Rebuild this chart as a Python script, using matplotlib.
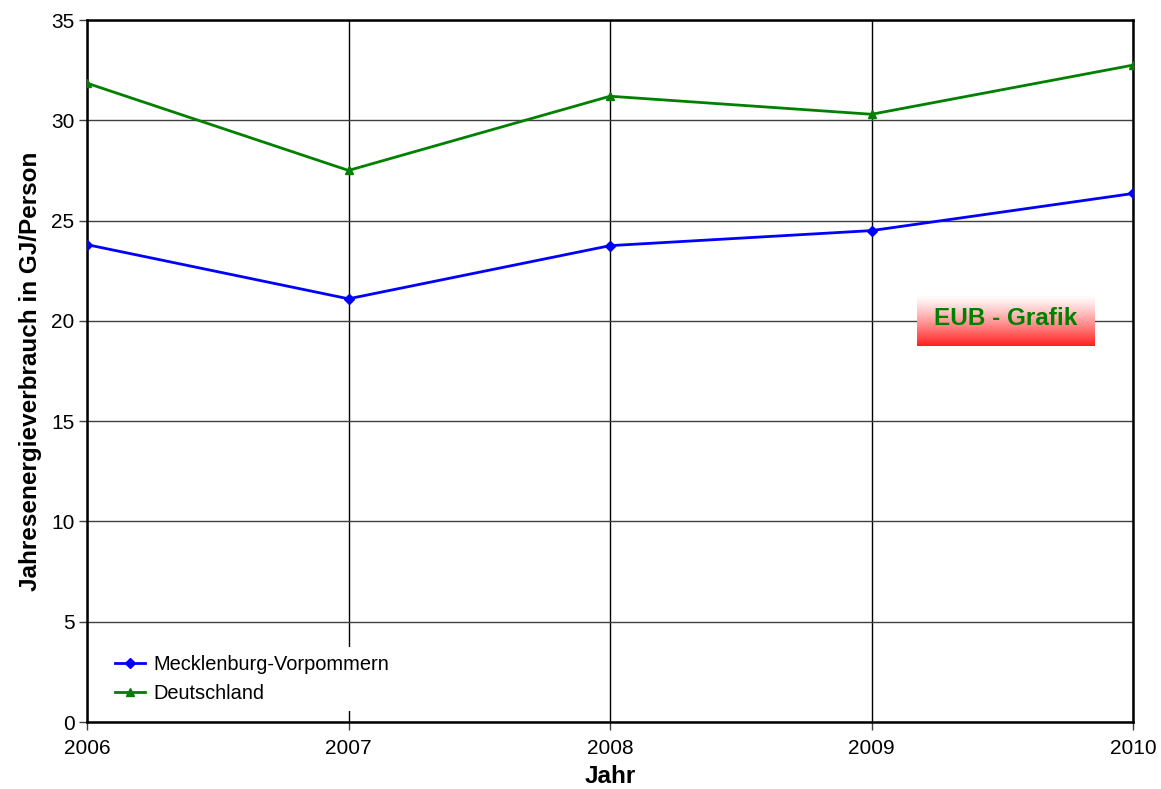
import numpy as np
import matplotlib
matplotlib.use("Agg")
import matplotlib.pyplot as plt

plt.rcParams['font.family'] = ['Liberation Sans', 'DejaVu Sans']

years = [2006, 2007, 2008, 2009, 2010]
mv_values = [23.8, 21.1, 23.75, 24.5, 26.35]
de_values = [31.85, 27.5, 31.2, 30.3, 32.75]
series_names = ["Mecklenburg-Vorpommern", "Deutschland"]
y_ticks = [0, 5, 10, 15, 20, 25, 30, 35]

fig = plt.figure(figsize=(11.61, 7.89), dpi=100)
ax = fig.add_axes([87 / 1161, 1 - 722 / 789, 1046 / 1161, 702 / 789])

ax.plot(years, mv_values, color="#0000ff", lw=2, marker="D", ms=5,
        label=series_names[0], zorder=3)
ax.plot(years, de_values, color="#008000", lw=2, marker="^", ms=6,
        label=series_names[1], zorder=3)

ax.set_xlim(years[0], years[-1])
ax.set_ylim(0, 35)
ax.set_xticks(years)
ax.set_yticks(y_ticks)
ax.tick_params(axis="both", labelsize=15, length=6, width=1, color="#404040")
ax.tick_params(axis="x", pad=6)
ax.tick_params(axis="y", pad=3)

ax.yaxis.grid(True, color="#404040", lw=1)
ax.xaxis.grid(True, color="black", lw=1)
ax.set_axisbelow(True)
for sp in ax.spines.values():
    sp.set_linewidth(1.8)
    sp.set_color("black")

ax.set_xlabel("Jahr", fontsize=17.5, fontweight="bold", labelpad=5.5)
ax.set_ylabel("Jahresenergieverbrauch in GJ/Person", fontsize=17.5,
              fontweight="bold", labelpad=6.5)

leg = ax.legend(loc="lower left", bbox_to_anchor=(0.010, 0.001), frameon=True,
                fontsize=14.4, handlelength=1.5, labelspacing=0.5,
                borderpad=0.4, handletextpad=0.4)
leg.get_frame().set_facecolor("white")
leg.get_frame().set_edgecolor("none")
leg.get_frame().set_alpha(1.0)

# white-to-red gradient badge
x0, x1 = (917 - 87) / 1046, (1095 - 87) / 1046
y0, y1 = 1 - (346 - 20) / 702, 1 - (296 - 20) / 702
grad = np.linspace(0, 1, 256).reshape(-1, 1)
rgb = np.zeros((256, 1, 3))
rgb[..., 0] = 1.0
rgb[..., 1] = 1 - grad ** 1.2 * 0.88
rgb[..., 2] = 1 - grad ** 1.2 * 0.88
ax.imshow(rgb, extent=(x0, x1, y0, y1), transform=ax.transAxes,
          aspect="auto", origin="upper", zorder=4)
ax.text((x0 + x1) / 2, (y0 + y1) / 2 + 0.004, "EUB - Grafik",
        transform=ax.transAxes, ha="center", va="center", fontsize=17.5,
        fontweight="bold", color="#008000", zorder=5)
ax.set_xlim(years[0], years[-1])
ax.set_ylim(0, 35)

fig.savefig("out.png", dpi=100)
